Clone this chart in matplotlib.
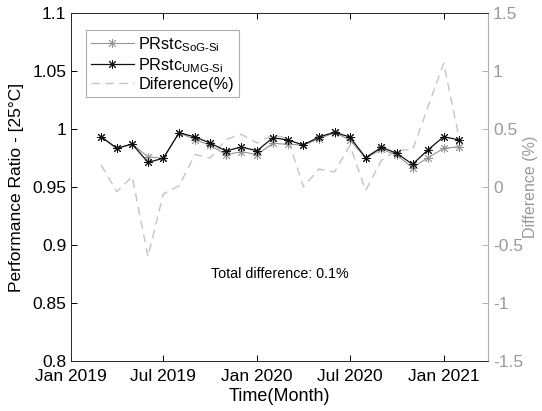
import matplotlib
matplotlib.use("Agg")
import matplotlib.pyplot as plt
import matplotlib.dates as mdates
import pandas as pd

plt.rcParams['font.family'] = ['Liberation Sans', 'DejaVu Sans']
plt.rcParams['mathtext.fontset'] = 'custom'
plt.rcParams['mathtext.rm'] = 'Liberation Sans'
plt.rcParams['mathtext.it'] = 'Liberation Sans'
plt.rcParams['mathtext.bf'] = 'Liberation Sans'
plt.rcParams['axes.unicode_minus'] = False

# ---- data ----
months = pd.date_range("2019-03-01", "2021-02-01", freq="MS")
pr_sog = [0.9934, 0.9834, 0.9871, 0.9760, 0.9748, 0.9969, 0.9910, 0.9860,
          0.9780, 0.9805, 0.9780, 0.9877, 0.9869, 0.9863, 0.9915, 0.9970,
          0.9906, 0.9750, 0.9826, 0.9776, 0.9667, 0.9753, 0.9834, 0.9848]
pr_umg = [0.9934, 0.9834, 0.9871, 0.9713, 0.9748, 0.9969, 0.9932, 0.9880,
          0.9811, 0.9845, 0.9813, 0.9926, 0.9906, 0.9863, 0.9932, 0.9972,
          0.9932, 0.9753, 0.9843, 0.9791, 0.9696, 0.9820, 0.9934, 0.9906]
difference = [0.19, -0.04, 0.09, -0.60, -0.06, 0.01, 0.28, 0.25,
              0.41, 0.455, 0.38, 0.45, 0.42, 0.00, 0.155, 0.13,
              0.36, -0.03, 0.23, 0.32, 0.32, 0.69, 1.07, 0.41]

left_ticks = [0.8, 0.85, 0.9, 0.95, 1.0, 1.05, 1.1]
left_ticklabels = ["0.8", "0.85", "0.9", "0.95", "1", "1.05", "1.1"]
right_ticks = [-1.5, -1, -0.5, 0, 0.5, 1, 1.5]
right_ticklabels = ["-1.5", "-1", "-0.5", "0", "0.5", "1", "1.5"]
x_ticks = pd.to_datetime(["2019-01-01", "2019-07-01", "2020-01-01", "2020-07-01", "2021-01-01"])
x_ticklabels = ["Jan 2019", "Jul 2019", "Jan 2020", "Jul 2020", "Jan 2021"]

grey_axis = "#b0b0b0"

fig = plt.figure(figsize=(5.42, 4.11), dpi=100)
ax = fig.add_axes([0.131, 0.1224, 0.7694, 0.8452])
ax2 = ax.twinx()

ast = (8, 2, 0)
l1, = ax.plot(months, pr_sog, color="#959595", lw=0.8, marker=ast, ms=6.5, mew=0.6,
              label=r"PRstc$_{\text{SoG-Si}}$", zorder=3)
l2, = ax.plot(months, pr_umg, color="#111111", lw=0.9, marker=ast, ms=6.5, mew=0.7,
              label=r"PRstc$_{\text{UMG-Si}}$", zorder=4)
l3, = ax2.plot(months, difference, color="#c4c4c4", lw=1.0, ls=(0, (6, 4)),
               label="Diference(%)")

ax.set_zorder(ax2.get_zorder() + 1)
ax.patch.set_visible(False)

ax.set_xlim(pd.Timestamp("2019-01-01"), pd.Timestamp("2021-03-29"))
ax.set_ylim(0.8, 1.1)
ax2.set_ylim(-1.5, 1.5)

ax.set_xticks(x_ticks)
ax.set_xticklabels(x_ticklabels)
ax.set_yticks(left_ticks)
ax.set_yticklabels(left_ticklabels)
ax2.set_yticks(right_ticks)
ax2.set_yticklabels(right_ticklabels)

ax.tick_params(axis='both', direction='in', labelsize=12.5, length=4, width=0.7,
               top=True, colors='black')
ax.tick_params(axis='x', pad=6)
ax2.tick_params(axis='y', direction='in', labelsize=12.5, length=4, width=0.7,
                colors=grey_axis, labelcolor="#9a9a9a")

for s in ['left', 'bottom', 'top']:
    ax.spines[s].set_color('#262626')
    ax.spines[s].set_linewidth(0.7)
ax.spines['right'].set_visible(False)
for s in ['left', 'bottom', 'top']:
    ax2.spines[s].set_visible(False)
ax2.spines['right'].set_color(grey_axis)
ax2.spines['right'].set_linewidth(0.8)

ax.set_ylabel("Performance Ratio - [25°C]", fontsize=12.5, labelpad=6)
ax.set_xlabel("Time(Month)", fontsize=13, labelpad=3)
ax2.set_ylabel("Difference (%)", fontsize=11.5, color="#9a9a9a")
ax2.yaxis.set_label_coords(1.083, 0.5)

ax.text(0.5, 0.25, "Total difference: 0.1%", transform=ax.transAxes,
        ha='center', va='center', fontsize=10.3)

leg = ax.legend(handles=[l1, l2, l3], loc='upper left', fontsize=11.7,
                bbox_to_anchor=(0.037, 0.952), frameon=True, fancybox=False,
                edgecolor='#9a9a9a', handlelength=2.6, handletextpad=0.3,
                borderpad=0.3, labelspacing=0.15, borderaxespad=0)
leg.get_frame().set_linewidth(0.8)

fig.savefig("out.png", dpi=100)
